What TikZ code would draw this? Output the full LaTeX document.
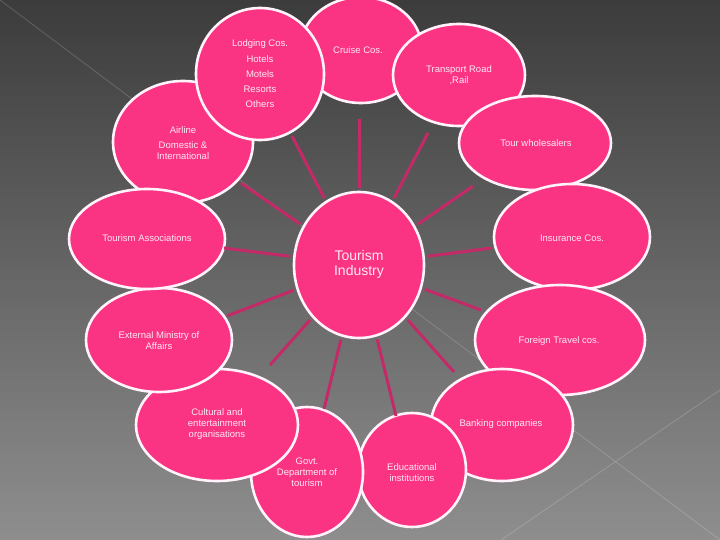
\documentclass[tikz,border=0pt]{standalone}
\usepackage{fontspec}
\setmainfont{Liberation Sans}
\usetikzlibrary{shapes.geometric}
\definecolor{bgtop}{RGB}{60,60,60}
\definecolor{bgbot}{RGB}{142,142,142}
\definecolor{pinkfill}{RGB}{250,52,130}
\definecolor{rimwhite}{RGB}{255,242,250}
\definecolor{spokecol}{RGB}{196,42,104}
\definecolor{txtcol}{RGB}{255,232,244}
\tikzset{
  bubble/.style={ellipse, fill=pinkfill, draw=rimwhite, line width=2.6pt, inner sep=0pt},
  lbl/.style={text=txtcol, font=\fontsize{9.5}{11}\selectfont, align=center, inner sep=0pt},
  biglbl/.style={text=txtcol, font=\fontsize{14}{15}\selectfont, align=center, inner sep=0pt},
  spoke/.style={draw=spokecol, line width=3pt, shorten <=3pt},
  faint/.style={draw=white, opacity=0.18, line width=0.8pt}
}
\begin{document}
\begin{tikzpicture}[x=1pt,y=-1pt]
\useasboundingbox (0,0) rectangle (720,540);
\shade[top color=bgtop, bottom color=bgbot] (0,0) rectangle (720,540);
\draw[faint] (0,0) -- (720,540);
\draw[faint] (720,390) -- (501,540);

% outer bubbles (drawing order matters for overlaps)
\node[bubble, minimum width=140pt, minimum height=122pt] (airline) at (183,142) {};
\node[bubble, minimum width=122pt, minimum height=106pt] (cruise) at (361,50) {};
\node[bubble, minimum width=128pt, minimum height=132pt] (lodging) at (260,74) {};
\node[bubble, minimum width=132pt, minimum height=102pt] (transport) at (459,75) {};
\node[bubble, minimum width=152pt, minimum height=94pt] (tour) at (535,143) {};
\node[bubble, minimum width=156pt, minimum height=106pt] (insur) at (572,237) {};
\node[bubble, minimum width=170pt, minimum height=110pt] (foreign) at (560,340) {};
\node[bubble, minimum width=142pt, minimum height=112pt] (bank) at (502,425) {};
\node[bubble, minimum width=108pt, minimum height=114pt] (edu) at (412,470) {};
\node[bubble, minimum width=112pt, minimum height=130pt] (govt) at (307,472) {};
\node[bubble, minimum width=162pt, minimum height=112pt] (cult) at (217,425) {};
\node[bubble, minimum width=146pt, minimum height=104pt] (ext) at (159,340) {};
\node[bubble, minimum width=156pt, minimum height=100pt] (tassoc) at (147,239) {};

% centre
\node[bubble, minimum width=130pt, minimum height=146pt] (c) at (359,265) {};

% spoke ends
\coordinate (ecruise) at (359,119);
\coordinate (etransport) at (428,133);
\coordinate (etour) at (473,186);
\coordinate (einsur) at (492,248);
\coordinate (eforeign) at (481,310);
\coordinate (ebank) at (454,372);
\coordinate (eedu) at (396,416);
\coordinate (egovt) at (324,409);
\coordinate (ecult) at (270,365);
\coordinate (eext) at (227,316);
\coordinate (etassoc) at (224,248);
\coordinate (eairline) at (241,183);
\coordinate (elodging) at (292,136);

\foreach \e in {ecruise,etransport,etour,einsur,eforeign,ebank,eedu,egovt,ecult,eext,etassoc,eairline,elodging}
  \draw[spoke] (c) -- (\e);

% labels
\node[lbl] (tlod1) at (260,44) {Lodging Cos.};
\node[lbl] (tlod2) at (260,59) {Hotels};
\node[lbl] (tlod3) at (260,74) {Motels};
\node[lbl] (tlod4) at (260,89) {Resorts};
\node[lbl] (tlod5) at (260,104) {Others};
\node[lbl] (tcruise) at (358,50) {Cruise Cos.};
\node[lbl] (ttransport) at (459,75.5) {Transport Road\\,Rail};
\node[lbl] (ttour) at (536,143) {Tour wholesalers};
\node[lbl] (tinsur) at (572,238) {Insurance Cos.};
\node[lbl] (tforeign) at (559,341) {Foreign Travel cos.};
\node[lbl] (tbank) at (501,424) {Banking companies};
\node[lbl] (tedu) at (412,472.5) {Educational\\institutions};
\node[lbl] (tgovt) at (307,472.5) {Govt.\\Department of\\tourism};
\node[lbl] (tcult) at (217,424.5) {Cultural and\\entertainment\\organisations};
\node[lbl] (text) at (159,341) {External Ministry of\\Affairs};
\node[lbl] (ttassoc) at (147,238) {Tourism Associations};
\node[lbl] (tair1) at (183,130) {Airline};
\node[lbl] (tair2) at (183,150.5) {Domestic \&\\International};
\node[biglbl] (tc) at (359,264.5) {Tourism\\Industry};
\end{tikzpicture}
\end{document}
